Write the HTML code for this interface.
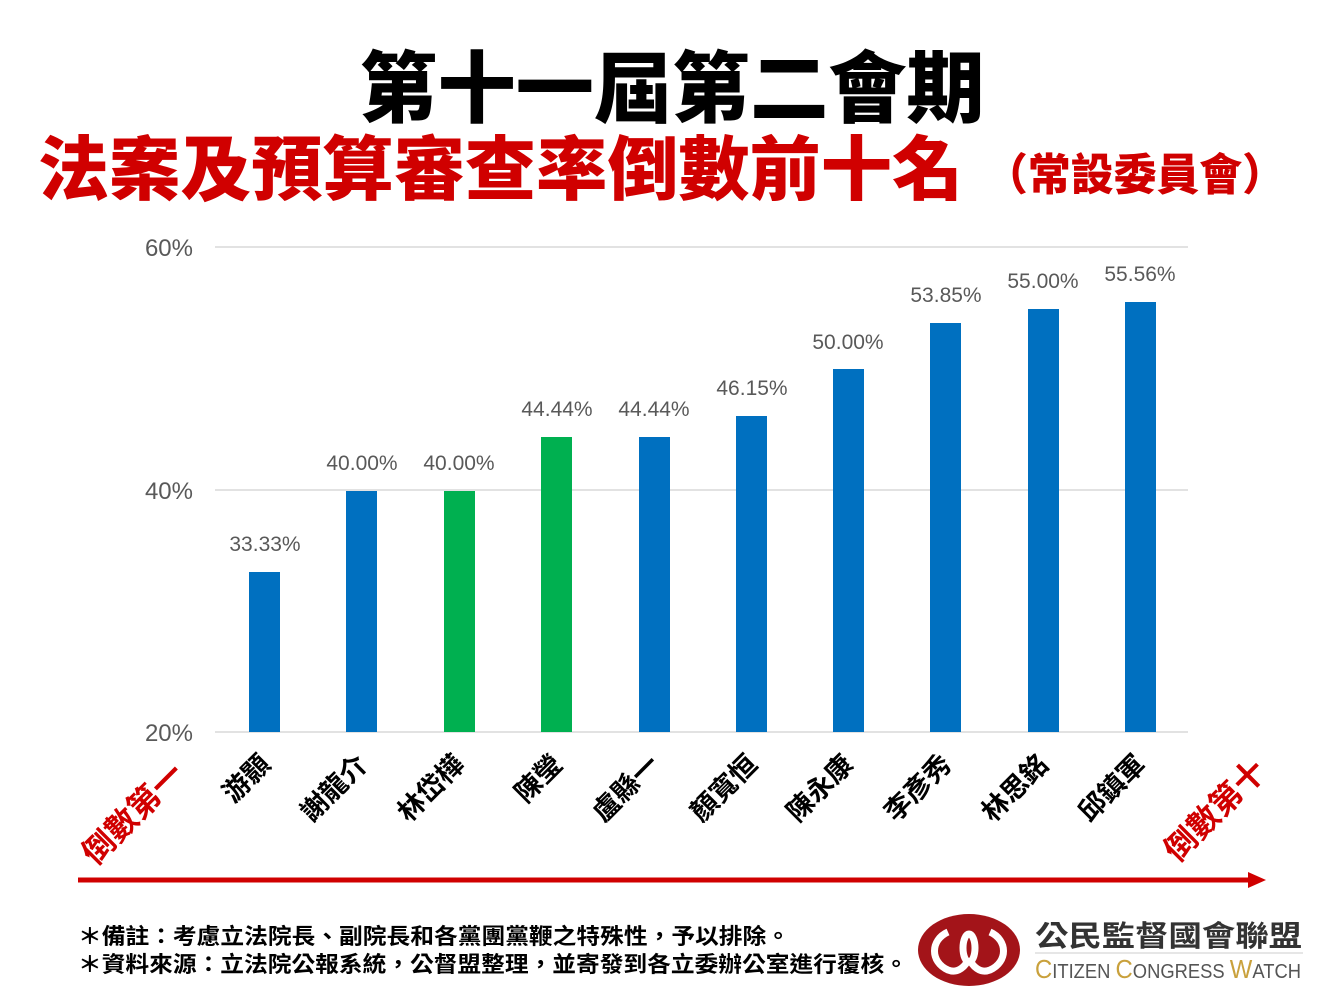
<!DOCTYPE html>
<html><head><meta charset="utf-8"><style>
body{margin:0;background:#fff;}
svg{display:block;font-family:"Liberation Sans","Noto Sans CJK TC",sans-serif;}
</style></head><body>
<svg width="1344" height="1008" viewBox="0 0 1344 1008" xmlns="http://www.w3.org/2000/svg">
<text x="672" y="116" text-anchor="middle" font-size="78" font-weight="900" fill="#000" textLength="625" lengthAdjust="spacingAndGlyphs">第十一屆第二會期</text>
<text x="38" y="194" font-size="70" font-weight="900" fill="#d00000" textLength="925" lengthAdjust="spacingAndGlyphs">法案及預算審查率倒數前十名</text>
<text x="985" y="190" font-size="44" font-weight="900" fill="#d00000" textLength="300" lengthAdjust="spacingAndGlyphs">（常設委員會）</text>
<g stroke="#d9d9d9" stroke-width="1.5">
<line x1="215" y1="247" x2="1188" y2="247"/>
<line x1="215" y1="490" x2="1188" y2="490"/>
<line x1="215" y1="732" x2="1188" y2="732"/>
</g>
<g font-size="24" fill="#595959" text-anchor="end">
<text x="193" y="256">60%</text><text x="193" y="499">40%</text><text x="193" y="741">20%</text>
</g>
<g>
<rect x="249" y="572" width="31" height="160" fill="#0070c0"/>
<rect x="346" y="491" width="31" height="241" fill="#0070c0"/>
<rect x="444" y="491" width="31" height="241" fill="#00b050"/>
<rect x="541" y="437" width="31" height="295" fill="#00b050"/>
<rect x="639" y="437" width="31" height="295" fill="#0070c0"/>
<rect x="736" y="416" width="31" height="316" fill="#0070c0"/>
<rect x="833" y="369" width="31" height="363" fill="#0070c0"/>
<rect x="930" y="323" width="31" height="409" fill="#0070c0"/>
<rect x="1028" y="309" width="31" height="423" fill="#0070c0"/>
<rect x="1125" y="302" width="31" height="430" fill="#0070c0"/>
</g>
<g font-size="21" fill="#595959" text-anchor="middle">
<text x="265" y="551">33.33%</text>
<text x="362" y="470">40.00%</text>
<text x="459" y="470">40.00%</text>
<text x="557" y="416">44.44%</text>
<text x="654" y="416">44.44%</text>
<text x="752" y="395">46.15%</text>
<text x="848" y="349">50.00%</text>
<text x="946" y="302">53.85%</text>
<text x="1043" y="288">55.00%</text>
<text x="1140" y="281">55.56%</text>
</g>
<g font-size="27" font-weight="bold" fill="#000" text-anchor="end">
<text transform="translate(272,766) rotate(-45)">游顥</text>
<text transform="translate(369,766) rotate(-45)">謝龍介</text>
<text transform="translate(466,766) rotate(-45)">林岱樺</text>
<text transform="translate(564,766) rotate(-45)">陳瑩</text>
<text transform="translate(661,766) rotate(-45)">盧縣一</text>
<text transform="translate(759,766) rotate(-45)">顏寬恒</text>
<text transform="translate(855,766) rotate(-45)">陳永康</text>
<text transform="translate(953,766) rotate(-45)">李彥秀</text>
<text transform="translate(1050,766) rotate(-45)">林思銘</text>
<text transform="translate(1147,766) rotate(-45)">邱鎮軍</text>
</g>
<g font-size="32" font-weight="bold" fill="#d00000" text-anchor="end">
<text transform="translate(186,776) rotate(-45)">倒數第一</text>
<text transform="translate(1268,773) rotate(-45)">倒數第十</text>
</g>
<line x1="78" y1="880" x2="1250" y2="880" stroke="#d00000" stroke-width="5"/>
<polygon points="1248,872 1266,880 1248,888" fill="#d00000"/>
<g font-size="22" font-weight="bold" fill="#000">
<text x="78" y="944" textLength="712" lengthAdjust="spacingAndGlyphs">＊備註：考慮立法院長、副院長和各黨團黨鞭之特殊性，予以排除。</text>
<text x="78" y="972" textLength="830" lengthAdjust="spacingAndGlyphs">＊資料來源：立法院公報系統，公督盟整理，並寄發到各立委辦公室進行覆核。</text>
</g>
<ellipse cx="969" cy="950" rx="51" ry="36" fill="#a31419"/>
<g fill="none" stroke="#fff" stroke-width="7">
<path d="M948,932 C930,940 930,962 948,970 C958,974 966,966 969,958"/>
<path d="M990,932 C1008,940 1008,962 990,970 C980,974 972,966 969,958"/>
<ellipse cx="969" cy="948" rx="6" ry="14"/>
</g>
<text x="1035" y="946" font-size="29" font-weight="bold" fill="#333" textLength="267" lengthAdjust="spacingAndGlyphs">公民監督國會聯盟</text>
<line x1="1035" y1="953" x2="1303" y2="953" stroke="#ccc" stroke-width="1"/>
<text x="1035" y="978" font-size="20" fill="#555" textLength="266" lengthAdjust="spacingAndGlyphs"><tspan fill="#c9a13c" font-size="26">C</tspan>ITIZEN <tspan fill="#c9a13c" font-size="26">C</tspan>ONGRESS <tspan fill="#c9a13c" font-size="26">W</tspan>ATCH</text>
</svg>
</body></html>
